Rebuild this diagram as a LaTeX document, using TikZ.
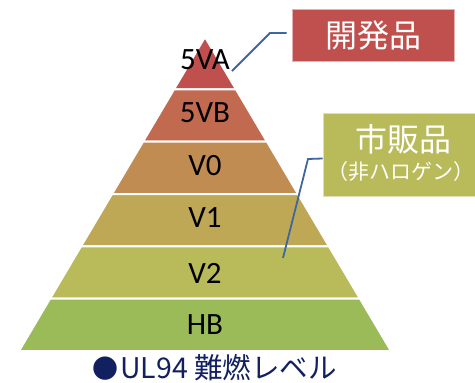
\documentclass[tikz,border=0pt]{standalone}
\usepackage{fontspec}
\setmainfont{Carlito}
\newfontfamily\jp{Noto Sans CJK JP}
\definecolor{cA}{RGB}{192,80,77}
\definecolor{cB}{RGB}{193,106,80}
\definecolor{cC}{RGB}{192,140,82}
\definecolor{cD}{RGB}{190,168,85}
\definecolor{cE}{RGB}{185,187,90}
\definecolor{cF}{RGB}{155,187,89}
\definecolor{conncol}{RGB}{62,102,160}
\definecolor{navy}{RGB}{18,32,96}
\begin{document}
\begin{tikzpicture}[x=1pt,y=-1pt,
  band/.style={draw=white,line width=2pt,line join=miter},
  lvl/.style={font=\fontsize{31}{31}\selectfont,text=black,inner sep=0pt},
  callbox/.style={draw=white!55!#1,line width=0.8pt,fill=#1,inner sep=0pt},
  calltext/.style={text=white,inner sep=0pt},
  conn/.style={draw=conncol,line width=1.8pt}]
\useasboundingbox (0,0) rectangle (475,383);
% pyramid bands: apex (205,37), base y=351, half width 186
\def\ap{205}
\foreach \k/\c in {0/cA,1/cB,2/cC,3/cD,4/cE,5/cF}{
  \pgfmathsetmacro{\ya}{37+\k*52.333}
  \pgfmathsetmacro{\yb}{37+(\k+1)*52.333}
  \pgfmathsetmacro{\ha}{\k*31}
  \pgfmathsetmacro{\hb}{(\k+1)*31}
  \fill[\c,band] (\ap-\ha,\ya) -- (\ap+\ha,\ya) -- (\ap+\hb,\yb) -- (\ap-\hb,\yb) -- cycle;
}
% level labels
\node[lvl] (l5va) at (205,60) {5VA};
\node[lvl] (l5vb) at (205,113) {5VB};
\node[lvl] (lv0) at (205,166) {V0};
\node[lvl] (lv1) at (205,218) {V1};
\node[lvl] (lv2) at (205,273) {V2};
\node[lvl] (lhb) at (205,325) {HB};
% callouts
\node[callbox=cA,minimum width=162pt,minimum height=52pt] (kaihatsu) at (373,35) {};
\node[calltext] (kaihatsuT) at (kaihatsu.center) {\jp\fontsize{32}{32}\selectfont 開発品};
\node[callbox=cE,minimum width=153pt,minimum height=83pt] (shihan) at (399.5,154.5) {};
\node[calltext] (shihanT) at (403,139) {\jp\fontsize{32}{32}\selectfont 市販品};
\node[calltext] (shihanS) at (401,172) {\jp\fontsize{21}{21}\selectfont （非ハロゲン）};
\coordinate (c1) at (232,71);
\coordinate (c2) at (283,258);
\draw[conn] ([xshift=-5pt,yshift=2pt]kaihatsu.west) -- (270,33) -- (c1);
\draw[conn] ([yshift=-4pt]shihan.west) -- (308,159) -- (c2);
% caption
\node[text=navy,inner sep=0pt,anchor=base west] (cap) at (92,378)
  {\jp{\fontsize{26}{26}\selectfont ●}\hspace{2pt}\fontsize{28.5}{28.5}\selectfont UL94 難燃レベル};
\end{tikzpicture}
\end{document}
